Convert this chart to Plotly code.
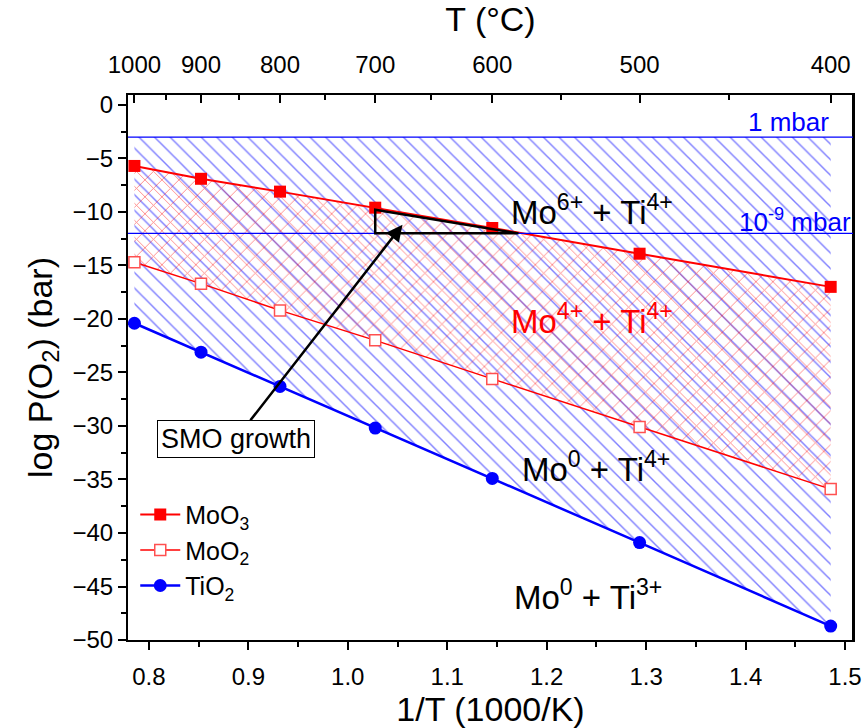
import plotly.graph_objects as go

# ---- data ----
T_C = [1000, 900, 800, 700, 600, 500, 400]
moo3 = [-5.7, -6.9, -8.1, -9.6, -11.5, -13.9, -17.0]
moo2 = [-14.7, -16.7, -19.2, -22.0, -25.6, -30.1, -35.9]
tio2 = [-20.4, -23.1, -26.3, -30.2, -34.9, -40.9, -48.7]
minor_T = [950, 850, 750, 650, 550, 450]
p_1mbar = -3
p_1e9mbar = -12

invT = [1000.0 / (t + 273.15) for t in T_C]
inv_minor = [1000.0 / (t + 273.15) for t in minor_T]

RED = "#ff0000"
BLUE = "#0000ff"
FONT = "Arial, Liberation Sans, sans-serif"

fig = go.Figure()

# blue hatched region between 1 mbar line and TiO2 line
fig.add_trace(go.Scatter(x=invT, y=[p_1mbar] * len(invT), mode="lines",
                         line=dict(width=0), showlegend=False, hoverinfo="skip"))
fig.add_trace(go.Scatter(x=invT, y=tio2, mode="lines", line=dict(width=0),
                         fill="tonexty", fillcolor="rgba(0,0,0,0)",
                         fillpattern=dict(shape="\\", fgcolor=BLUE, bgcolor="rgba(0,0,0,0)",
                                          size=11, solidity=0.13, fillmode="overlay"),
                         showlegend=False, hoverinfo="skip"))
# red cross-hatched region between MoO3 and MoO2
fig.add_trace(go.Scatter(x=invT, y=moo3, mode="lines", line=dict(width=0),
                         showlegend=False, hoverinfo="skip"))
fig.add_trace(go.Scatter(x=invT, y=moo2, mode="lines", line=dict(width=0),
                         fill="tonexty", fillcolor="rgba(0,0,0,0)",
                         fillpattern=dict(shape="x", fgcolor=RED, bgcolor="rgba(0,0,0,0)",
                                          size=12, solidity=0.14, fillmode="overlay"),
                         showlegend=False, hoverinfo="skip"))

# data series
fig.add_trace(go.Scatter(x=invT, y=moo3, mode="lines+markers", name="MoO<sub>3</sub>",
                         line=dict(color=RED, width=2),
                         marker=dict(symbol="square", size=12, color=RED)))
fig.add_trace(go.Scatter(x=invT, y=moo2, mode="lines+markers", name="MoO<sub>2</sub>",
                         line=dict(color=RED, width=1.5),
                         marker=dict(symbol="square", size=11, color="white",
                                     line=dict(width=1.5, color="#ff5050"))))
fig.add_trace(go.Scatter(x=invT, y=tio2, mode="lines+markers", name="TiO<sub>2</sub>",
                         line=dict(color=BLUE, width=2.5),
                         marker=dict(symbol="circle", size=13, color=BLUE)))

# dummy trace for top axis
fig.add_trace(go.Scatter(x=invT, y=tio2, xaxis="x2", mode="markers",
                         marker=dict(opacity=0), showlegend=False, hoverinfo="skip"))

xr = [0.779, 1.508]

fig.update_layout(
    width=865, height=728,
    margin=dict(l=128, r=12, t=95, b=88),
    paper_bgcolor="white", plot_bgcolor="white",
    font=dict(family=FONT, size=24, color="black"),
    showlegend=True,
    legend=dict(x=0.01, y=0.272, xanchor="left", yanchor="top", traceorder="normal",
                bgcolor="rgba(0,0,0,0)", font=dict(size=25), tracegroupgap=0,
                itemwidth=40),
    xaxis=dict(range=xr, showline=True, linecolor="black", linewidth=2,
               ticks="outside", ticklen=8, tickwidth=1.5, tickcolor="black",
               tickvals=[0.8, 0.9, 1.0, 1.1, 1.2, 1.3, 1.4, 1.5],
               ticktext=["0.8", "0.9", "1.0", "1.1", "1.2", "1.3", "1.4", "1.5"],
               minor=dict(ticks="outside", ticklen=5, tickwidth=1.5, tickcolor="black",
                          dtick=0.05, tick0=0.75),
               ticklabelstandoff=6, automargin=False,
               showgrid=False, zeroline=False, mirror=False,
               title=dict(text="1/T (1000/K)", font=dict(size=34), standoff=8)),
    xaxis2=dict(range=xr, overlaying="x", side="top", showline=True, linecolor="black",
                linewidth=2, ticks="inside", ticklen=8, tickwidth=1.5, tickcolor="black",
                tickvals=invT, ticktext=[str(t) for t in T_C],
                minor=dict(ticks="inside", ticklen=5, tickwidth=1.5, tickcolor="black",
                           tickvals=inv_minor),
                ticklabelstandoff=10, automargin=False,
                showgrid=False, zeroline=False,
                title=dict(text="T (°C)", font=dict(size=34), standoff=10)),
    yaxis=dict(range=[-50, 0.93], showline=True, linecolor="black", linewidth=2,
               ticks="outside", ticklen=8, tickwidth=1.5, tickcolor="black",
               tickvals=list(range(0, -51, -5)),
               minor=dict(ticks="outside", ticklen=5, tickwidth=1.5, tickcolor="black",
                          dtick=2.5, tick0=0),
               automargin=False,
               showgrid=False, zeroline=False, mirror=True,
               title=dict(text="log P(O<sub>2</sub>) (bar)", font=dict(size=34), standoff=10)),
)

# right frame line (mirror without ticks)
fig.add_shape(type="line", xref="paper", yref="paper", x0=1, x1=1, y0=0, y1=1,
              line=dict(color="black", width=2))

# pressure lines
for yv in [p_1mbar, p_1e9mbar]:
    fig.add_shape(type="line", xref="paper", yref="y", x0=0, x1=1, y0=yv, y1=yv,
                  line=dict(color=BLUE, width=1.2), layer="above")

# SMO growth triangle
fig.add_shape(type="path", xref="x", yref="y",
              path=f"M {invT[3]},-9.8 L {invT[3]},{p_1e9mbar} L 1.1716,{p_1e9mbar} Z",
              line=dict(color="black", width=2.5), layer="above")

# annotations
fig.add_annotation(x=1.055, y=-11.2, ax=0.8876, ay=-31.2, xref="x", yref="y",
                   axref="x", ayref="y", text="SMO growth", showarrow=True,
                   arrowhead=2, arrowsize=1.3, arrowwidth=2.5, arrowcolor="black",
                   font=dict(size=27, color="black"), bordercolor="black",
                   borderwidth=1, borderpad=3, bgcolor="white")

labels = [
    ("Mo<sup>6+</sup> + Ti<sup>4+</sup>", 1.246, -9.8, "black"),
    ("Mo<sup>4+</sup> + Ti<sup>4+</sup>", 1.246, -20.0, RED),
    ("Mo<sup>0</sup> + Ti<sup>4+</sup>", 1.25, -33.8, "black"),
    ("Mo<sup>0</sup> + Ti<sup>3+</sup>", 1.242, -45.8, "black"),
]
for txt, xv, yv, col in labels:
    fig.add_annotation(x=xv, y=yv, xref="x", yref="y", text=txt, showarrow=False,
                       font=dict(size=33, color=col))

fig.add_annotation(x=1.4856, y=-3, xref="x", yref="y", text="1 mbar", showarrow=False,
                   xanchor="right", yanchor="bottom", yshift=-2,
                   font=dict(size=26, color=BLUE))
fig.add_annotation(x=1.508, y=-12, xref="x", yref="y", text="10<sup>-9</sup> mbar",
                   showarrow=False, xanchor="right", yanchor="bottom", yshift=-6,
                   font=dict(size=26, color=BLUE))

fig.write_html("out.html")
